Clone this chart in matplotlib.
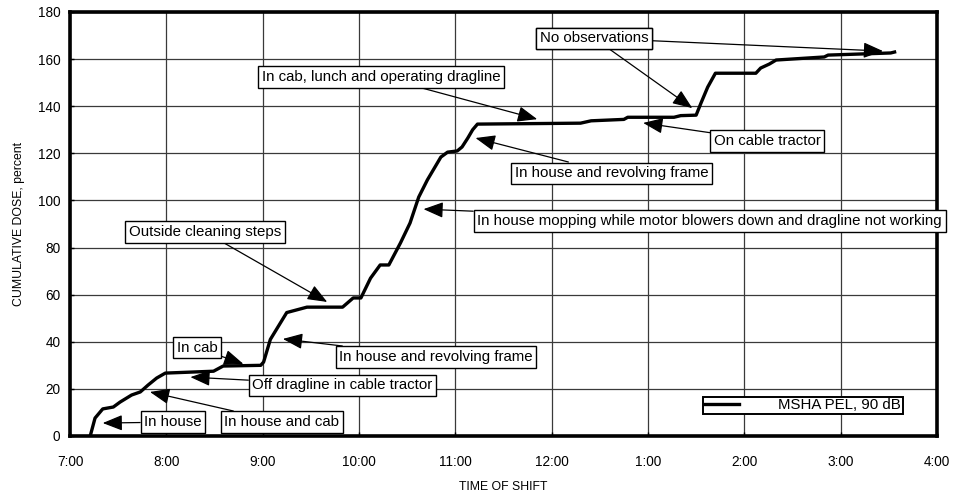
"""Cumulative noise dose over a dragline operator's shift."""

import matplotlib
matplotlib.use("Agg")
import matplotlib.pyplot as plt

plt.rcParams.update(
    {
        "font.family": ["Liberation Sans", "DejaVu Sans"],
        "font.size": 9.8,
    }
)

# hours after 7:00 and cumulative dose (percent)
hours = [
    0.21, 0.26, 0.34, 0.45, 0.52, 0.64, 0.73, 0.81, 0.90, 0.99, 1.49, 1.59,
    1.98, 2.01, 2.08, 2.25, 2.46, 2.83, 2.94, 3.02, 3.12, 3.22, 3.31, 3.43,
    3.53, 3.62, 3.71, 3.85, 3.92, 4.02, 4.07, 4.13, 4.18, 4.23, 5.30, 5.41,
    5.75, 5.79, 6.27, 6.34, 6.50, 6.55, 6.62, 6.70, 7.12, 7.17, 7.26, 7.33,
    7.83, 7.87, 8.52, 8.56,
]
dose = [
    0.0, 7.6, 11.5, 12.3, 14.4, 17.4, 18.7, 21.6, 24.6, 26.7, 27.5, 29.7,
    30.0, 31.4, 41.0, 52.4, 54.7, 54.7, 58.6, 58.6, 67.0, 72.6, 72.6, 81.9,
    90.4, 101.4, 108.7, 118.4, 120.5, 121.0, 122.7, 126.5, 130.0, 132.4, 132.8, 133.8,
    134.4, 135.3, 135.3, 136.0, 136.2, 141.3, 148.1, 154.0, 154.0, 156.2, 157.9, 159.6,
    160.9, 161.7, 162.6, 163.0,
]

tick_hours = list(range(10))
tick_labels = ["7:00", "8:00", "9:00", "10:00", "11:00", "12:00", "1:00", "2:00", "3:00", "4:00"]
y_ticks = list(range(0, 181, 20))

# (label, text centre, arrow tips)
notes = [
    ("In house", (1.07, 5.9), [(0.34, 5.5)]),
    ("In house and cab", (2.20, 5.9), [(0.83, 18.7)]),
    ("Off dragline in cable tractor", (2.83, 21.6), [(1.25, 25.0)]),
    ("In cab", (1.32, 37.4), [(1.80, 30.6)]),
    ("In house and revolving frame", (3.80, 33.5), [(2.21, 41.2)]),
    ("Outside cleaning steps", (1.40, 86.6), [(2.67, 56.9)]),
    ("In house mopping while motor blowers down and dragline not working", (6.64, 91.3), [(3.67, 96.3)]),
    ("In house and revolving frame", (5.62, 111.6), [(4.21, 126.5)]),
    ("In cab, lunch and operating dragline", (3.23, 152.4), [(4.85, 134.5)]),
    ("No observations", (5.44, 168.9), [(8.44, 163.4), (6.46, 139.2)]),
    ("On cable tractor", (7.24, 125.2), [(5.95, 132.9)]),
]

fig = plt.figure(figsize=(9.6, 4.95), dpi=100)
ax = fig.add_axes([0.0729, 0.1192, 0.9031, 0.8566])

ax.plot(hours, dose, color="black", linewidth=2.4, label="MSHA PEL, 90 dB", zorder=3)

ax.set_xlim(0, 9)
ax.set_ylim(0, 180)
ax.set_xticks(tick_hours)
ax.set_xticklabels(tick_labels)
ax.set_yticks(y_ticks)
ax.grid(color="#3a3a3a", linewidth=0.9)
ax.tick_params(direction="in", length=3, width=1, pad=14)
ax.tick_params(axis="y", pad=7)
for spine in ax.spines.values():
    spine.set_linewidth(2.6)

ax.set_xlabel("TIME OF SHIFT", fontsize=8.8, labelpad=8)
ax.set_ylabel("CUMULATIVE DOSE, percent", fontsize=8.8, labelpad=9)

box = dict(boxstyle="square,pad=0.24", facecolor="white", edgecolor="black", linewidth=1.0)
for label, pos, tips in notes:
    for tip in tips:
        ax.annotate(
            label,
            xy=tip,
            xytext=pos,
            ha="center",
            va="center",
            fontsize=10.8,
            bbox=box,
            annotation_clip=False,
            arrowprops=dict(
                arrowstyle="-|>,head_length=0.55,head_width=0.22",
                color="black",
                lw=0.9,
                mutation_scale=22,
                shrinkA=0,
                shrinkB=0,
            ),
            zorder=5,
        )

leg = ax.legend(
    loc="lower right",
    bbox_to_anchor=(0.969, 0.035),
    frameon=True,
    fancybox=False,
    edgecolor="black",
    framealpha=1,
    fontsize=10.8,
    borderpad=0.1,
    handlelength=2.3,
    handletextpad=2.6,
)
leg.get_frame().set_linewidth(1.4)

fig.savefig("out.png", dpi=100)
